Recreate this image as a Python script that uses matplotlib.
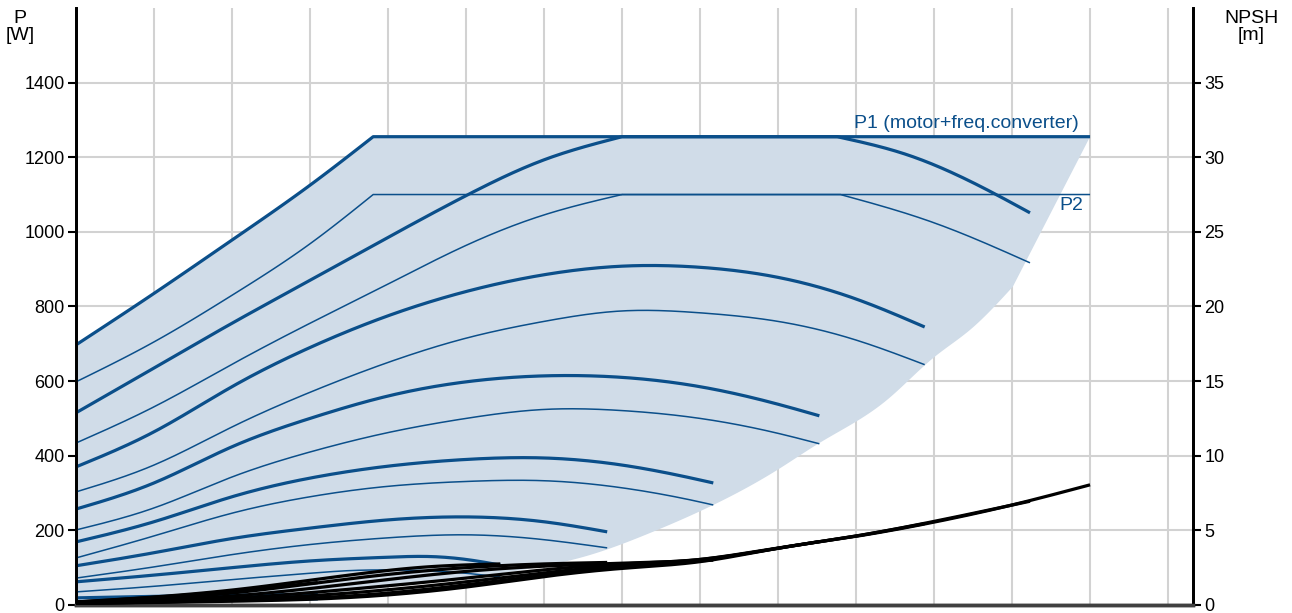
import numpy as np
import matplotlib.pyplot as plt

plt.rcParams['font.family'] = ['Liberation Sans', 'DejaVu Sans']

BLUE = '#0b4f8a'
FILL = '#d0dce8'
GRID = '#d2d2d2'

# flow axis in grid steps, power in W, NPSH in m
# P1 (motor + freq. converter), thick lines, one per speed
p1_max_q = [0, 1, 2, 3, 3.81, 13.0]
p1_max_w = [697, 835, 978, 1125, 1255, 1255]
p1_s2_q = [0, 1, 2, 3, 4, 5, 6, 7, 9.76, 10.65, 11.85, 12.23]
p1_s2_w = [515, 635, 755, 870, 985, 1097, 1193, 1255, 1255, 1207, 1094, 1051]
p1_s3_q = [0, 1, 2, 3, 4, 5, 6, 7, 8, 9, 10, 10.88]
p1_s3_w = [370, 464, 585, 690, 775, 840, 885, 908, 905, 878, 820, 745]
p1_s4_q = [0, 1, 2, 3, 4, 5, 6, 7, 8, 9, 9.53]
p1_s4_w = [257, 327, 424, 500, 560, 598, 614, 610, 585, 538, 507]
p1_s5_q = [0, 1, 2, 3, 4, 5, 6, 7, 8, 8.17]
p1_s5_w = [169, 223, 290, 340, 372, 390, 394, 375, 335, 327]
p1_s6_q = [0, 1, 2, 3, 4, 5, 6, 6.81]
p1_s6_w = [105, 140, 178, 206, 228, 236, 223, 196]
p1_s7_q = [0, 1, 2, 3, 4, 4.5, 5, 5.44]
p1_s7_w = [62, 80, 100, 118, 128, 130, 122, 107]
p1_s8_q = [0, 1, 2, 3.1]
p1_s8_w = [19, 23, 26, 28]

# P2 (shaft power), thin lines
p2_max_q = [0, 1, 2, 3, 3.81, 13.0]
p2_max_w = [598, 705, 830, 968, 1100, 1100]
p2_s2_q = [0, 1, 2, 3, 4, 4.88, 6.01, 7, 9.8, 10.99, 12.23]
p2_s2_w = [434, 531, 645, 755, 860, 952, 1046, 1100, 1100, 1025, 917]
p2_s3_q = [0, 1, 2, 3, 4, 5, 6, 7, 8, 9, 10, 10.88]
p2_s3_w = [303, 375, 477, 570, 650, 715, 760, 788, 783, 760, 710, 644]
p2_s4_q = [0, 1, 2, 3, 4, 5, 6, 7, 8, 9, 9.53]
p2_s4_w = [201, 260, 343, 410, 462, 500, 524, 521, 500, 460, 432]
p2_s5_q = [0, 1, 2, 3, 4, 5, 6, 7, 8, 8.17]
p2_s5_w = [126, 185, 246, 290, 318, 331, 333, 314, 276, 268]
p2_s6_q = [0, 1, 2, 3, 4, 5, 6, 6.81]
p2_s6_w = [72, 102, 135, 162, 180, 188, 175, 153]
p2_s7_q = [0, 1, 2, 3, 3.5, 4, 5, 5.44]
p2_s7_w = [35, 50, 68, 85, 92, 94, 85, 75]
p2_s8_q = [0, 1.5, 3.1]
p2_s8_w = [8, 12, 14]

# lower edge of the operating area (straight from 12.01 up to the corner)
area_low_q = [0, 2.2, 3.1, 4.2, 5.44, 6.59, 7.36, 8.17, 9.03, 9.53, 10.4,
              10.99, 11.46, 12.01, 13.0]
area_low_w = [5, 20, 30, 52, 85, 134, 193, 268, 367, 434, 550, 662, 737,
              853, 1255]

# NPSH curves, one per speed
npsh_max_q = [0, 2, 3.5, 5, 6, 7, 8, 9, 10, 11, 12, 13.0]
npsh_max_m = [0.1, 0.25, 0.5, 1.2, 1.9, 2.45, 2.9, 3.8, 4.6, 5.55, 6.7, 8.05]
npsh_s2_q = [0, 2, 3.5, 5, 6, 7, 8, 9, 10, 11, 12.23]
npsh_s2_m = [0.1, 0.3, 0.6, 1.35, 2.0, 2.55, 3.0, 3.8, 4.62, 5.6, 6.95]
npsh_s3_q = [0, 2, 3.5, 5, 6, 7, 8, 9, 10, 10.88]
npsh_s3_m = [0.1, 0.35, 0.8, 1.55, 2.15, 2.65, 3.05, 3.82, 4.62, 5.45]
npsh_s4_q = [0, 2, 3.5, 5, 6, 7, 8, 9, 9.53]
npsh_s4_m = [0.15, 0.45, 1.05, 1.8, 2.35, 2.75, 3.05, 3.8, 4.25]
npsh_s5_q = [0, 2, 3.5, 5, 6, 7, 8.17]
npsh_s5_m = [0.15, 0.6, 1.4, 2.25, 2.6, 2.8, 3.0]
npsh_s6_q = [0, 2, 3.5, 5, 6, 6.81]
npsh_s6_m = [0.2, 0.8, 1.75, 2.5, 2.75, 2.85]
npsh_s7_q = [0, 2, 3.5, 4.5, 5.44]
npsh_s7_m = [0.2, 1.0, 2.0, 2.55, 2.75]
npsh_s8_q = [0, 1.5, 3.1]
npsh_s8_m = [0.2, 0.7, 1.5]

p1_curves = [(p1_max_q, p1_max_w), (p1_s2_q, p1_s2_w), (p1_s3_q, p1_s3_w),
             (p1_s4_q, p1_s4_w), (p1_s5_q, p1_s5_w), (p1_s6_q, p1_s6_w),
             (p1_s7_q, p1_s7_w), (p1_s8_q, p1_s8_w)]
p2_curves = [(p2_max_q, p2_max_w), (p2_s2_q, p2_s2_w), (p2_s3_q, p2_s3_w),
             (p2_s4_q, p2_s4_w), (p2_s5_q, p2_s5_w), (p2_s6_q, p2_s6_w),
             (p2_s7_q, p2_s7_w), (p2_s8_q, p2_s8_w)]
npsh_curves = [(npsh_max_q, npsh_max_m), (npsh_s2_q, npsh_s2_m),
               (npsh_s3_q, npsh_s3_m), (npsh_s4_q, npsh_s4_m),
               (npsh_s5_q, npsh_s5_m), (npsh_s6_q, npsh_s6_m),
               (npsh_s7_q, npsh_s7_m), (npsh_s8_q, npsh_s8_m)]

p_ticks = [0, 200, 400, 600, 800, 1000, 1200, 1400]
npsh_ticks = [0, 5, 10, 15, 20, 25, 30, 35]


def spline(x, y, n=30):
    """Natural cubic spline through the points, for drawing only."""
    x = np.asarray(x, float)
    y = np.asarray(y, float)
    if len(x) < 3:
        return x, y
    N = len(x)
    h = np.diff(x)
    A = np.zeros((N, N))
    r = np.zeros(N)
    A[0, 0] = A[-1, -1] = 1
    for i in range(1, N - 1):
        A[i, i - 1] = h[i - 1]
        A[i, i] = 2 * (h[i - 1] + h[i])
        A[i, i + 1] = h[i]
        r[i] = 3 * ((y[i + 1] - y[i]) / h[i] - (y[i] - y[i - 1]) / h[i - 1])
    c = np.linalg.solve(A, r)
    b = np.diff(y) / h - h * (2 * c[:-1] + c[1:]) / 3
    d = np.diff(c) / (3 * h)
    xs, ys = [], []
    for i in range(N - 1):
        t = np.linspace(0, h[i], n, endpoint=(i == N - 2))
        xs.append(x[i] + t)
        ys.append(y[i] + b[i] * t + c[i] * t**2 + d[i] * t**3)
    return np.concatenate(xs), np.concatenate(ys)


def curve(q, v):
    """Smooth pieces, with flat stretches (power limit) kept straight."""
    q = list(q)
    v = list(v)
    xs, ys = [], []
    start = 0
    for i in range(len(q) - 1):
        if v[i] == v[i + 1]:
            if i > start:
                px, py = spline(q[start:i + 1], v[start:i + 1])
                xs.append(px)
                ys.append(py)
            xs.append(np.array([q[i], q[i + 1]]))
            ys.append(np.array([v[i], v[i + 1]]))
            start = i + 1
    if start < len(q) - 1:
        px, py = spline(q[start:], v[start:])
        xs.append(px)
        ys.append(py)
    return np.concatenate(xs), np.concatenate(ys)


fig = plt.figure(figsize=(12.92, 6.13), dpi=100)
ax = fig.add_axes([0.0588, 0.0131, 0.8646, 0.9739])
ax2 = ax.twinx()

# operating area between the max P1 curve and the lower edge
top_q, top_w = curve(p1_max_q, p1_max_w)
low_q, low_w = spline(area_low_q[:-1], area_low_w[:-1])
low_q = np.append(low_q, area_low_q[-1])
low_w = np.append(low_w, area_low_w[-1])
ax.fill(np.concatenate([top_q, low_q[::-1]]),
        np.concatenate([top_w, low_w[::-1]]), color=FILL, lw=0, zorder=1)

for q, w in p1_curves:
    ax.plot(*curve(q, w), color=BLUE, lw=2.3, solid_capstyle='butt',
            zorder=3)
for q, w in p2_curves:
    ax.plot(*curve(q, w), color=BLUE, lw=1.1, solid_capstyle='butt',
            zorder=3)

for q, m in npsh_curves:
    ax2.plot(*spline(q, m), color='black', lw=2.3, solid_capstyle='butt',
             zorder=3)

ax.text(12.85, 1268, 'P1 (motor+freq.converter)', color=BLUE, fontsize=14,
        ha='right', va='bottom')
ax.text(12.91, 1094, 'P2', color=BLUE, fontsize=14, ha='right', va='top')

ax.set_xlim(0, 14.32)
ax.set_ylim(0, 1600)
ax2.set_ylim(0, 40)
ax.set_xticks(range(1, 15))
ax.set_yticks(p_ticks)
ax2.set_yticks(npsh_ticks)
ax.grid(True, color=GRID, lw=1.5)
ax.set_axisbelow(True)
ax.tick_params(axis='x', length=0, labelbottom=False)
ax.tick_params(axis='y', length=6, width=1.5, labelsize=13, pad=2)
ax2.tick_params(axis='y', length=6, width=1.5, labelsize=13, pad=2)

for a in (ax, ax2):
    a.spines['top'].set_visible(False)
    a.spines['left'].set_linewidth(2)
    a.spines['right'].set_linewidth(2)
    a.spines['bottom'].set_linewidth(2.5)
    a.spines['bottom'].set_color('#404040')

fig.text(20 / 1292, 1 - 27 / 613, 'P\n[W]', fontsize=14, ha='center',
         va='center', linespacing=0.95)
fig.text(1251 / 1292, 1 - 27 / 613, 'NPSH\n[m]', fontsize=14, ha='center',
         va='center', linespacing=0.95)

fig.savefig('out.png', dpi=100)
